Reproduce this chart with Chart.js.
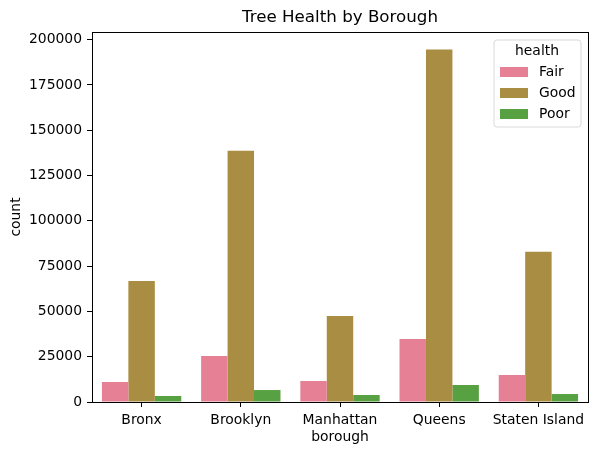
<!DOCTYPE html>
<html>
<head>
<meta charset="utf-8">
<script src="https://cdn.jsdelivr.net/npm/chart.js@4"></script>
<style>
  html, body { margin: 0; padding: 0; background: #fff; }
  #wrap { width: 597px; height: 455px; }
</style>
</head>
<body>
<div id="wrap"><canvas id="myChart" width="597" height="455"></canvas></div>
<script>
const boroughs = ["Bronx", "Brooklyn", "Manhattan", "Queens", "Staten Island"];
const healthLevels = ["Fair", "Good", "Poor"];
const fairCounts = [11050, 25400, 11600, 34800, 14900];
const goodCounts = [66850, 138700, 47500, 194500, 82900];
const poorCounts = [3300, 6600, 3870, 9400, 4400];
const yTicks = [0, 25000, 50000, 75000, 100000, 125000, 150000, 175000, 200000];

const colors = ["#e68094", "#a98d42", "#58a142"];
const FONT = "DejaVu Sans";

const ctx = document.getElementById("myChart").getContext("2d");

// title, axis labels, frame and legend drawn by hand (matplotlib look)
const decor = {
  id: "decor",
  afterDraw(chart) {
    const c = chart.ctx;
    const a = chart.chartArea;
    c.save();
    c.fillStyle = "#000";
    c.textAlign = "center";
    c.textBaseline = "middle";
    c.font = "16.7px '" + FONT + "'";
    c.fillText("Tree Health by Borough", (a.left + a.right) / 2, 18);
    c.font = "13.9px '" + FONT + "'";
    c.fillText("borough", (a.left + a.right) / 2, 437);
    c.save();
    c.translate(16, (a.top + a.bottom) / 2);
    c.rotate(-Math.PI / 2);
    c.fillText("count", 0, 0);
    c.restore();

    // axes frame
    c.strokeStyle = "#000";
    c.lineWidth = 1;
    c.strokeRect(Math.round(a.left) + 0.5, Math.round(a.top) + 0.5,
      Math.round(a.right - a.left), Math.round(a.bottom - a.top));

    // legend
    const lx = 494, ly = 40, lw = 87, lh = 87, r = 3;
    c.beginPath();
    c.moveTo(lx + r, ly);
    c.arcTo(lx + lw, ly, lx + lw, ly + lh, r);
    c.arcTo(lx + lw, ly + lh, lx, ly + lh, r);
    c.arcTo(lx, ly + lh, lx, ly, r);
    c.arcTo(lx, ly, lx + lw, ly, r);
    c.closePath();
    c.fillStyle = "rgba(255,255,255,0.8)";
    c.fill();
    c.strokeStyle = "#d9d9d9";
    c.stroke();
    c.fillStyle = "#000";
    c.textAlign = "center";
    c.fillText("health", 537, 51);
    c.textAlign = "left";
    chart.data.datasets.forEach((ds, i) => {
      const y = 67 + i * 21;
      c.fillStyle = ds.backgroundColor;
      c.fillRect(500, y, 28, 10);
      c.fillStyle = "#000";
      c.fillText(ds.label, 539, y + 5);
    });
    c.restore();
  },
};

const seriesValues = [fairCounts, goodCounts, poorCounts];

const data = {
  labels: boroughs,
  datasets: healthLevels.map((h, i) => ({
    label: h,
    data: seriesValues[i],
    backgroundColor: colors[i],
    borderWidth: 0,
    categoryPercentage: 0.8,
    barPercentage: 1.0,
  })),
};

const config = {
  type: "bar",
  data: data,
  options: {
    responsive: false,
    animation: false,
    layout: { padding: { left: 0, right: 9, top: 32, bottom: 0 } },
    plugins: {
      legend: { display: false },
      title: { display: false },
      tooltip: { enabled: false },
    },
    scales: {
      x: {
        afterFit: (s) => { s.height = 53; },
        grid: { drawOnChartArea: false, tickLength: 5, color: "#000", offset: false },
        border: { display: false },
        ticks: { color: "#000", padding: 5, font: { family: FONT, size: 13.9 }, maxRotation: 0 },
      },
      y: {
        min: 0,
        max: 204225,
        afterFit: (s) => { s.width = 92; },
        afterBuildTicks: (s) => { s.ticks = yTicks.map((v) => ({ value: v })); },
        grid: { drawOnChartArea: false, tickLength: 5, color: "#000" },
        border: { display: false },
        ticks: {
          color: "#000",
          padding: 5,
          font: { family: FONT, size: 13.9 },
          callback: (v) => String(v),
        },
      },
    },
  },
  plugins: [decor],
};

const myChart = new Chart(ctx, config);
</script>
</body>
</html>
